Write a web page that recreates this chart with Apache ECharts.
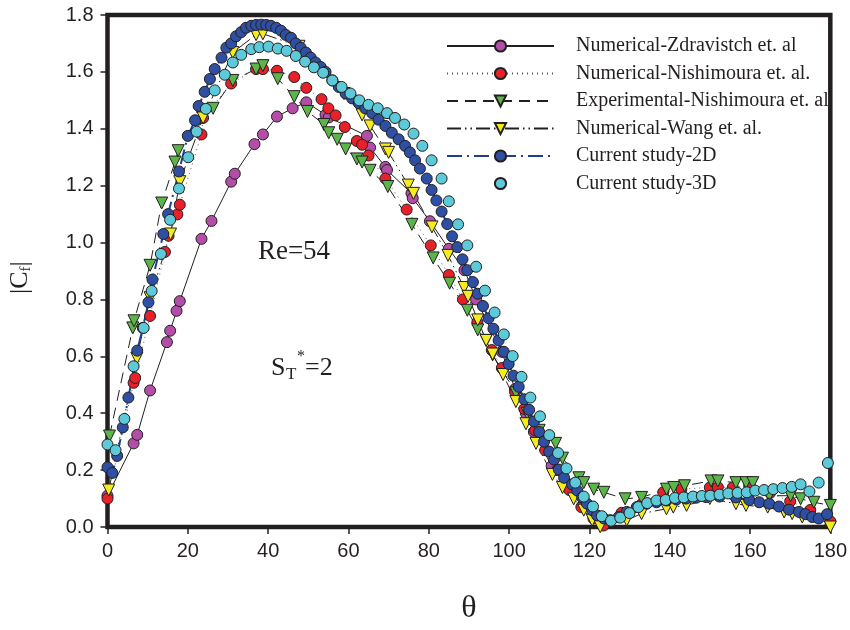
<!DOCTYPE html>
<html>
<head>
<meta charset="utf-8">
<script src="https://cdn.jsdelivr.net/npm/echarts@6/dist/echarts.min.js"></script>
<style>html,body{margin:0;padding:0;background:#fff;}#c{width:850px;height:630px;}</style>
</head>
<body>
<div id="c"></div>
<script>
// ---- tick labels ----
const xTicks = [0, 20, 40, 60, 80, 100, 120, 140, 160, 180];
const yTicks = [0.0, 0.2, 0.4, 0.6, 0.8, 1.0, 1.2, 1.4, 1.6, 1.8];

const seriesNames = [
  'Numerical-Zdravistch et. al',
  'Numerical-Nishimoura et. al.',
  'Experimental-Nishimoura et. al',
  'Numerical-Wang et. al.',
  'Current study-2D',
  'Current study-3D'
];

// ---- Numerical-Zdravistch ----
const zdrTheta = [0, 6.5, 7.4, 10.6, 14.8, 15.6, 17.2, 18, 23.4, 25.9, 30.8, 31.7, 36.6, 38.7, 42.2, 46.1, 49.5, 54.3, 55.1, 64.6, 65.4, 69.2, 69.6, 75.7, 76.0, 80.3, 85.0, 88.9, 91.8, 98.2, 101.5, 104.2, 106.2, 110.6];
const zdrCf    = [0.11, 0.294, 0.324, 0.48, 0.65, 0.69, 0.76, 0.794, 1.013, 1.076, 1.214, 1.242, 1.346, 1.38, 1.443, 1.472, 1.493, 1.449, 1.44, 1.375, 1.334, 1.266, 1.255, 1.173, 1.156, 1.075, 0.978, 0.903, 0.80, 0.616, 0.485, 0.40, 0.334, 0.214];

// ---- Numerical-Nishimoura ----
const nisTheta = [0, 6.5, 6.9, 10.6, 14.3, 15.2, 17.4, 18, 23.4, 23.8, 30.8, 37, 38.7, 42.2, 46.5, 49.5, 53.3, 55, 56.8, 59.1, 62.1, 63.4, 65, 69.2, 74.5, 80.5, 85, 88.5, 92.1, 95.7, 98.2, 101.5, 103.8, 106.5, 109, 112, 115, 118, 121, 123.5, 128, 133, 138.4, 142.9, 150, 152, 155.7, 159.8, 165, 170, 175, 180];
const nisCf    = [0.10, 0.507, 0.524, 0.742, 0.967, 1.024, 1.099, 1.133, 1.38, 1.438, 1.559, 1.61, 1.61, 1.604, 1.582, 1.544, 1.504, 1.472, 1.447, 1.406, 1.357, 1.344, 1.306, 1.225, 1.116, 0.99, 0.886, 0.80, 0.72, 0.622, 0.559, 0.475, 0.415, 0.34, 0.27, 0.20, 0.13, 0.07, 0.03, 0.005, 0.05, 0.08, 0.122, 0.133, 0.139, 0.14, 0.139, 0.145, 0.12, 0.09, 0.06, 0.02];

// ---- Experimental-Nishimoura ----
const expTheta = [0.5, 6.3, 6.6, 10.6, 13.5, 16.8, 17.6, 26.3, 31.2, 37, 38.7, 42.4, 46.5, 49.8, 53.9, 55.1, 57.2, 59.3, 62.1, 63.4, 65.4, 69.8, 75.8, 81.1, 85.2, 89.6, 92.2, 94.3, 95.9, 101.7, 104.5, 107.5, 109.5, 111.6, 113.3, 117.4, 118.6, 121.1, 123.6, 128.9, 133, 139.2, 141, 143.7, 150.3, 152, 156.5, 159, 160.7, 164.8, 170.1, 172.6, 175.9, 180];
const expCf    = [0.32, 0.70, 0.725, 0.92, 1.139, 1.283, 1.323, 1.472, 1.57, 1.61, 1.622, 1.576, 1.513, 1.461, 1.415, 1.386, 1.363, 1.329, 1.294, 1.283, 1.254, 1.197, 1.064, 0.946, 0.857, 0.762, 0.693, 0.656, 0.605, 0.472, 0.40, 0.34, 0.31, 0.294, 0.242, 0.173, 0.156, 0.133, 0.122, 0.099, 0.104, 0.133, 0.139, 0.145, 0.162, 0.162, 0.156, 0.156, 0.156, 0.11, 0.11, 0.099, 0.087, 0.076];

// ---- Numerical-Wang ----
const wangTheta = [0.3, 7.3, 10.6, 15.7, 18, 23.8, 31.2, 37, 38.7, 47.7, 58.9, 63.4, 65.4, 69.2, 70, 74.9, 76.2, 80.8, 84.8, 88.8, 89.8, 92.2, 94.3, 95.9, 98.5, 101.7, 104.2, 106.7, 110.8, 113.3, 116.1, 118.6, 120.7, 122.7, 129.3, 133, 139.2, 140.9, 144.2, 150, 156.5, 159, 164.4, 168.5, 170.5, 173, 180];
const wangCf    = [0.13, 0.593, 0.806, 1.03, 1.214, 1.438, 1.668, 1.731, 1.734, 1.69, 1.524, 1.449, 1.41, 1.329, 1.317, 1.202, 1.173, 1.055, 0.955, 0.842, 0.811, 0.728, 0.656, 0.608, 0.536, 0.441, 0.363, 0.294, 0.185, 0.139, 0.099, 0.059, 0.024, 0.001, 0.024, 0.047, 0.064, 0.07, 0.076, 0.10, 0.082, 0.076, 0.07, 0.053, 0.047, 0.035, 0.0];

// ---- Current study-2D ----
const cs2Theta = [0, 1.2, 2.4, 3.8, 5.2, 7.4, 8.8, 10.2, 11.2, 13.9, 15.1, 17.8, 20, 21.8, 22.7, 24.2, 25.5, 26.7, 28.4, 29.6, 30.8, 32, 33.3, 34.5, 35.8, 37, 38.3, 39.5, 40.7, 42, 43.2, 44.4, 45.7, 46.9, 48.1, 49.4, 50.6, 51.8, 53.1, 54.3, 56, 57.6, 59.3, 60.9, 62.6, 64.2, 65.9, 67.5, 69.2, 70.8, 72.5, 74.1, 75.3, 76.6, 77.8, 79.5, 80.7, 81.9, 83.2, 84.6, 85.8, 87.1, 88.4, 89.6, 91, 92.2, 93.5, 94.9, 96.1, 97.4, 98.7, 99.9, 101.1, 102.4, 103.8, 105, 106.2, 107.5, 108.7, 110, 111.2, 112.4, 113.7, 115.7, 117, 118.2, 119.4, 120.7, 121.9, 123.6, 125.2, 127.3, 129.3, 131.8, 134.3, 136.7, 139.2, 141.7, 144.1, 146.6, 149.1, 152.4, 156.5, 159.8, 162.3, 164.8, 167.2, 169.7, 172.2, 173.8, 175.5, 177.1, 179.2];
const cs2Cf    = [0.21, 0.19, 0.25, 0.35, 0.455, 0.62, 0.70, 0.79, 0.87, 1.03, 1.10, 1.25, 1.375, 1.43, 1.48, 1.53, 1.575, 1.61, 1.65, 1.685, 1.70, 1.725, 1.74, 1.755, 1.762, 1.765, 1.766, 1.765, 1.762, 1.755, 1.745, 1.73, 1.72, 1.70, 1.685, 1.668, 1.65, 1.633, 1.617, 1.60, 1.57, 1.547, 1.524, 1.507, 1.49, 1.472, 1.455, 1.432, 1.41, 1.386, 1.363, 1.34, 1.317, 1.289, 1.26, 1.225, 1.185, 1.148, 1.109, 1.065, 1.022, 0.984, 0.941, 0.903, 0.861, 0.82, 0.777, 0.734, 0.697, 0.656, 0.616, 0.573, 0.532, 0.493, 0.449, 0.412, 0.371, 0.334, 0.30, 0.265, 0.237, 0.202, 0.173, 0.15, 0.128, 0.104, 0.082, 0.059, 0.041, 0.03, 0.024, 0.035, 0.053, 0.07, 0.082, 0.087, 0.093, 0.097, 0.10, 0.103, 0.105, 0.107, 0.104, 0.095, 0.087, 0.082, 0.072, 0.061, 0.053, 0.045, 0.035, 0.03, 0.045];

// ---- Current study-3D ----
const cs3Theta = [0, 2, 4.2, 6.5, 9, 11, 13.3, 15.6, 17.8, 20.1, 22.2, 24.5, 26.7, 29.2, 31.2, 33.3, 35.8, 37.8, 40.1, 42.4, 44.6, 46.9, 49.2, 51.4, 53.7, 56, 58.3, 60.5, 62.7, 65, 67.3, 69.6, 71.6, 73.9, 76.2, 78.4, 80.7, 83.2, 85, 87.3, 89.6, 91.8, 94, 96.4, 98.7, 100.9, 103.1, 105.3, 107.7, 110, 112.2, 114.3, 116.5, 118.6, 120.9, 123.1, 125.4, 127.7, 130, 132.2, 134.4, 136.7, 139, 141.3, 143.5, 145.8, 148, 150.1, 152.4, 154.6, 156.9, 159.2, 161.3, 163.5, 165.8, 168.1, 170.4, 172.6, 174.8, 177.1, 179.4];
const cs3Cf    = [0.29, 0.27, 0.38, 0.565, 0.70, 0.83, 0.96, 1.08, 1.19, 1.30, 1.39, 1.47, 1.535, 1.59, 1.633, 1.66, 1.68, 1.687, 1.689, 1.682, 1.674, 1.656, 1.636, 1.616, 1.597, 1.57, 1.547, 1.524, 1.50, 1.484, 1.472, 1.455, 1.438, 1.415, 1.383, 1.34, 1.289, 1.225, 1.145, 1.064, 0.99, 0.915, 0.831, 0.754, 0.677, 0.601, 0.528, 0.455, 0.389, 0.323, 0.26, 0.206, 0.156, 0.107, 0.072, 0.038, 0.022, 0.033, 0.049, 0.07, 0.084, 0.093, 0.095, 0.102, 0.104, 0.107, 0.109, 0.11, 0.114, 0.118, 0.12, 0.122, 0.128, 0.13, 0.133, 0.137, 0.141, 0.15, 0.125, 0.156, 0.225];

function zip(xs, ys) { return xs.map((x, i) => [x, ys[i]]); }

const INK = '#231f20';
const SERIF = '"Liberation Serif", "Times New Roman", serif';
const SANS = '"Liberation Sans", Arial, sans-serif';

function mk(name, xs, ys, symbol, fill, line, size) {
  const s = {
    name: name,
    type: 'line',
    data: zip(xs, ys),
    symbol: symbol,
    symbolSize: size,
    showAllSymbol: true,
    itemStyle: { color: fill, borderColor: INK, borderWidth: 1 },
    lineStyle: line,
    emphasis: { disabled: true }
  };
  if (symbol === 'triangle') s.symbolRotate = 180;
  return s;
}

const chart = echarts.init(document.getElementById('c'), null, { renderer: 'canvas' });
chart.setOption({
  animation: false,
  backgroundColor: '#ffffff',
  grid: { left: 107.5, right: 14.5, top: 15, bottom: 93, show: true, borderColor: INK, borderWidth: 4.5, backgroundColor: 'transparent' },
  xAxis: {
    type: 'value', min: xTicks[0], max: xTicks[xTicks.length - 1], interval: 20,
    name: 'θ', nameLocation: 'middle', nameGap: 66,
    nameTextStyle: { fontFamily: SERIF, fontSize: 32, color: INK },
    axisLine: { show: false },
    axisTick: { show: true, inside: false, length: 7, lineStyle: { color: INK, width: 1.5 } },
    axisLabel: { fontFamily: SANS, fontSize: 20, color: INK, margin: 14 },
    splitLine: { show: false }
  },
  yAxis: {
    type: 'value', min: yTicks[0], max: yTicks[yTicks.length - 1], interval: 0.2,
    axisLine: { show: false },
    axisTick: { show: true, inside: false, length: 7, lineStyle: { color: INK, width: 1.5 } },
    axisLabel: { fontFamily: SANS, fontSize: 20, color: INK, margin: 14, formatter: v => v.toFixed(1) },
    splitLine: { show: false }
  },
  legend: {
    orient: 'vertical', left: 441, top: 30,
    itemWidth: 107, itemHeight: 14, itemGap: 5.5,
    data: seriesNames,
    textStyle: { fontFamily: SERIF, fontSize: 20, color: INK, lineHeight: 22, padding: [0, 0, 0, 17] }
  },
  graphic: [
    { type: 'text', x: 294, y: 252, style: { text: 'Re=54', font: '27px ' + SERIF, fill: INK, align: 'center', verticalAlign: 'middle' } },
    { type: 'text', x: 271, y: 368, style: { text: 'S', font: '26px ' + SERIF, fill: INK, align: 'left', verticalAlign: 'middle' } },
    { type: 'text', x: 286, y: 375, style: { text: 'T', font: '17px ' + SERIF, fill: INK, align: 'left', verticalAlign: 'middle' } },
    { type: 'text', x: 297, y: 357, style: { text: '*', font: '16px ' + SERIF, fill: INK, align: 'left', verticalAlign: 'middle' } },
    { type: 'text', x: 305, y: 368, style: { text: '=2', font: '26px ' + SERIF, fill: INK, align: 'left', verticalAlign: 'middle' } },
    { type: 'group', x: 20, y: 277, rotation: Math.PI / 2, children: [
      { type: 'text', x: -17, y: 0, style: { text: '|C', font: '26px ' + SERIF, fill: INK, align: 'left', verticalAlign: 'middle' } },
      { type: 'text', x: 5.5, y: 6, style: { text: 'f', font: '15px ' + SERIF, fill: INK, align: 'left', verticalAlign: 'middle' } },
      { type: 'text', x: 10.5, y: 0, style: { text: '|', font: '26px ' + SERIF, fill: INK, align: 'left', verticalAlign: 'middle' } }
    ]}
  ],
  series: [
    mk(seriesNames[0], zdrTheta, zdrCf, 'circle', '#b24ea8', { color: INK, width: 1, type: 'solid' }, 11),
    mk(seriesNames[1], nisTheta, nisCf, 'circle', '#e8202a', { color: '#555', width: 1, type: [1, 4] }, 11),
    mk(seriesNames[2], expTheta, expCf, 'triangle', '#5cb548', { color: INK, width: 1, type: [11, 7] }, 12),
    mk(seriesNames[3], wangTheta, wangCf, 'triangle', '#f4ec1c', { color: INK, width: 1, type: [14, 4, 1.5, 4, 1.5, 4] }, 12),
    mk(seriesNames[4], cs2Theta, cs2Cf, 'circle', '#2f50a2', { color: '#1d3f8f', width: 2, type: [15, 5, 2, 5] }, 11),
    mk(seriesNames[5], cs3Theta, cs3Cf, 'circle', '#5ccad9', { color: '#5ccad9', width: 1, opacity: 0 }, 11)
  ]
});
</script>
</body>
</html>
